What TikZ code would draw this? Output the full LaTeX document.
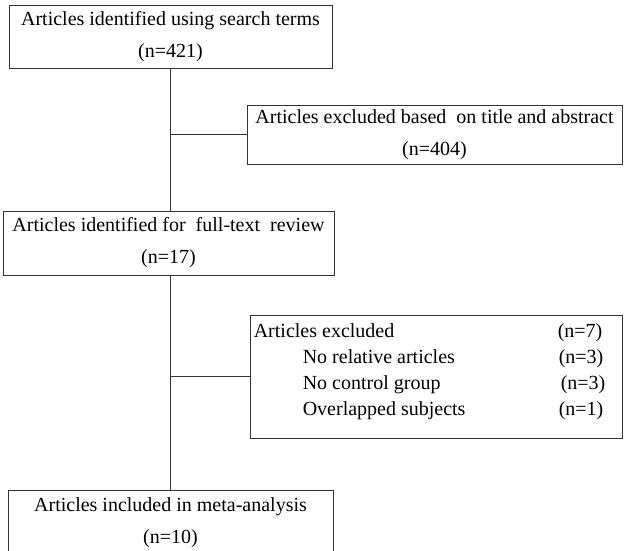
\documentclass[tikz,border=0pt]{standalone}
\usepackage{fontspec}
\setmainfont{Liberation Serif}
\usepackage{array}

\begin{document}
\begin{tikzpicture}[x=1pt,y=1pt,
					squarednode/.style={rectangle,
					thick,
					draw=black!80,
					fill=white,
					align=center,
					inner sep=0pt,
					font=\fontsize{20}{32}\selectfont},
					node distance = 200pt
					]

\useasboundingbox (0,0) rectangle (624,-550);

%top node
\node[squarednode, minimum width=323pt, minimum height=63pt] (Search) at (170.5,-36.5) {Articles identified using search terms\\(n=421)};

%first exclusion
\node[squarednode, minimum width=375pt, minimum height=59pt] (ExclTitle) [right of = Search, node distance = 264pt, yshift=-98pt] {Articles excluded based\ \ on title and abstract\\(n=404)};

% full-text level
\node[squarednode, minimum width=331pt, minimum height=64pt] (FullText) [below of = Search, node distance = 206.5pt, xshift=-2pt] {Articles identified for\ \ full-text\ \ review\\(n=17)};

% second exclusion
\node[squarednode, minimum width=372pt, minimum height=123pt] (ExclFull) [right of = FullText, node distance = 267.5pt, yshift=-133.5pt] {};
\node[anchor=north west, inner sep=0pt, font=\fontsize{20}{26}\selectfont] (ExclList) at ([shift={(4pt,-4pt)}]ExclFull.north west)
	{\begin{tabular}{@{}p{304pt}@{}l@{}}
	Articles excluded & (n=7)\\
	\hspace*{49pt}No relative articles & \hspace*{1pt}(n=3)\\
	\hspace*{49pt}No control group & \hspace*{3pt}(n=3)\\
	\hspace*{49pt}Overlapped subjects & \hspace*{1pt}(n=1)
	\end{tabular}};

% final
\node[squarednode, minimum width=325pt, minimum height=65pt] (Included) [below of = FullText, node distance = 279.5pt, xshift=2pt] {Articles included in meta-analysis\\(n=10)};

% Lines
\draw [thick, black!80] (Search.south) -- (Search.south |- FullText.north);
\draw [thick, black!80] (Search.south |- ExclTitle.west) -- (ExclTitle.west);
\draw [thick, black!80] (Search.south |- FullText.south) -- (Search.south |- Included.north);
\draw [thick, black!80] (Search.south |- ExclFull.west) -- (ExclFull.west);

\end{tikzpicture}
\end{document}
